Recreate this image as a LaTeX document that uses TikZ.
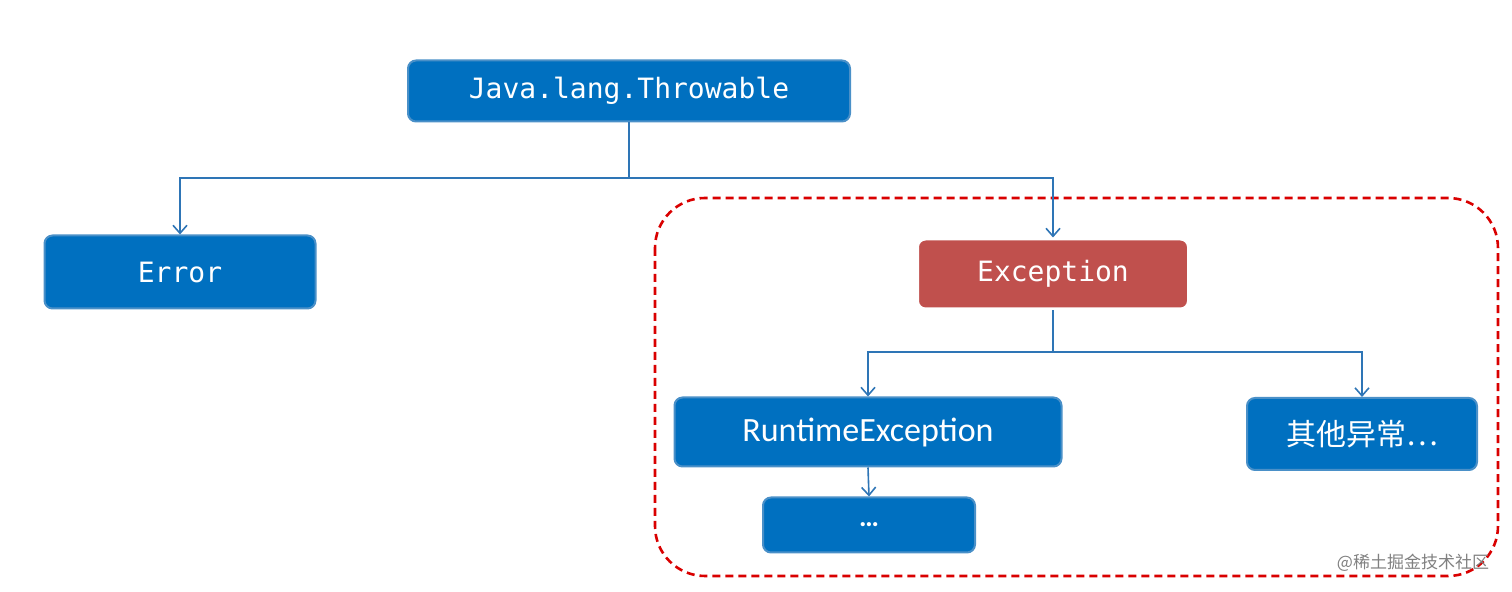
\documentclass[tikz,border=0pt]{standalone}
\usepackage{fontspec}
\setmainfont{Carlito}
\newfontfamily\monof{DejaVu Sans Mono}
\newfontfamily\cjkf{Noto Sans CJK SC}
\usetikzlibrary{arrows.meta}
\definecolor{bfill}{HTML}{0070C0}
\definecolor{bedge}{HTML}{4A90C8}
\definecolor{rfill}{HTML}{C0504D}
\definecolor{lcol}{HTML}{2E75B6}
\begin{document}
\begin{tikzpicture}[x=0.5pt,y=-0.5pt,
  box/.style={draw=bedge,line width=1pt,fill=bfill,rounded corners=4pt,text=white,inner sep=0pt},
  conn/.style={draw=lcol,line width=0.8pt,-{Straight Barb[length=4pt,width=7pt]}},
  line/.style={draw=lcol,line width=0.8pt}]
\useasboundingbox (0,0) rectangle (1512,592);
\draw[red!85!black,line width=1.3pt,dash pattern=on 4pt off 2.5pt,rounded corners=25pt] (655,198) rectangle (1498,576);
\node[box,minimum width=221pt,minimum height=30.5pt,font=\monof\fontsize{14}{16}\selectfont] (thr) at (629,91) {Java.lang.Throwable};
\node[box,minimum width=135.5pt,minimum height=36.5pt,font=\monof\fontsize{14}{16}\selectfont] (err) at (180,272) {Error};
\node[box,fill=rfill,draw=white,line width=1.5pt,minimum width=135.5pt,minimum height=35pt,font=\monof\fontsize{14}{16}\selectfont] (exc) at (1053,274) {Exception};
\node[box,minimum width=193.5pt,minimum height=34.5pt,font=\fontsize{17}{19}\selectfont] (rt) at (868,432) {RuntimeException};
\node[box,minimum width=115pt,minimum height=36pt,font=\cjkf\fontsize{15}{17}\selectfont] (oth) at (1362,434) {其他异常…};
\node[box,minimum width=106pt,minimum height=27.5pt,font=\fontsize{14}{16}\selectfont\bfseries] (dots) at (869,525) {…};
\coordinate (j1) at (629,178);
\coordinate (j2) at (1053,352);
\draw[line] (thr.south) -- (j1);
\draw[conn] (j1) -| (err.north);
\draw[conn] (j1) -| (exc.north);
\draw[line] (exc.south) -- (j2);
\draw[conn] (j2) -| (rt.north);
\draw[conn] (j2) -| (oth.north);
\draw[conn] (rt.south) -- (dots.north);
\node[text=gray,font=\cjkf\fontsize{8.5}{10}\selectfont] (wm) at (1413,563) {@稀土掘金技术社区};
\end{tikzpicture}
\end{document}
